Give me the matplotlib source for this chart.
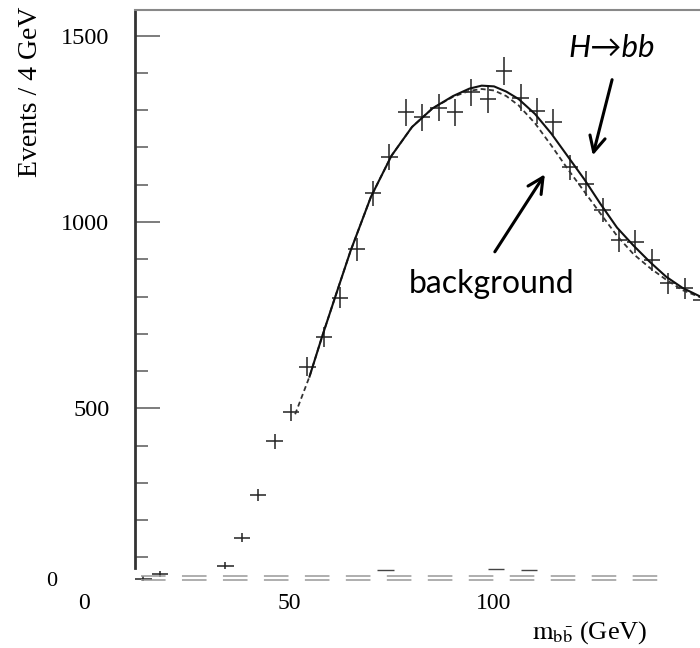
import matplotlib
matplotlib.use("Agg")
import matplotlib.pyplot as plt
import numpy as np

plt.rcParams['lines.scale_dashes'] = False
plt.rcParams['mathtext.fontset'] = 'stix'

# measured m_bb spectrum (4 GeV bins)
bin_centres = [14.5, 18.5, 34.5, 38.5, 42.5, 46.5, 50.5, 54.5, 58.5, 62.5, 66.5,
               70.5, 74.5, 78.5, 82.5, 86.5, 90.5, 94.5, 98.5, 102.5, 106.5,
               110.5, 114.5, 118.5, 122.5, 126.5, 130.5, 134.5, 138.5, 142.5,
               146.5, 150.5]
events = [43, 56, 78, 153, 267, 412, 489, 612, 692, 797, 927,
          1077, 1174, 1294, 1281, 1307, 1294, 1348, 1330, 1405, 1334,
          1298, 1269, 1147, 1103, 1031, 951, 947, 898, 835,
          822, 790]

# fit curves
bkg_x = [51.5, 55, 58, 61, 65, 70, 75, 80, 85, 90, 94, 97, 100, 103, 106,
         110, 114, 118, 122, 126, 130, 134, 138, 142, 146, 150.3]
bkg_y = [484, 585, 690, 790, 922, 1068, 1178, 1255, 1305, 1336, 1352, 1357,
         1353, 1338, 1313, 1265, 1205, 1142, 1082, 1022, 963, 914, 877, 845,
         817, 798]
tot_x = [55, 58, 61, 65, 70, 75, 80, 85, 90, 94, 97, 100, 103, 106, 110,
         114, 118, 122, 126, 130, 134, 138, 142, 146, 150.3]
tot_y = [585, 690, 790, 922, 1068, 1178, 1255, 1305, 1338, 1358, 1366,
         1364, 1350, 1330, 1290, 1237, 1176, 1115, 1048, 985, 937, 893, 853,
         823, 800]

# small signal-only bins near the axis
sig_x = [73.5, 100.5, 108.5]
sig_y = [67, 70, 66]

fig = plt.figure(figsize=(7, 6.48), dpi=100)
ax = fig.add_axes([135/700, 53.4/648, 565/700, 584.6/648])
ax.set_xlim(12.44, 150.24)
ax.set_ylim(0, 1569)

# data crosses
ax.errorbar(bin_centres, events, xerr=2, yerr=np.sqrt(events), fmt='none',
            ecolor='#222222', elinewidth=1.1, capsize=0)
ax.errorbar(sig_x, sig_y, xerr=2, fmt='none', ecolor='#444444',
            elinewidth=1.0, capsize=0)

# fits
ax.plot(bkg_x, bkg_y, color='#333333', lw=1.3, dashes=(3.6, 2.4))
ax.plot(tot_x, tot_y, color='#111111', lw=1.5)

# broken (scanned) x axis line
for yv in (40.5, 48.6):
    ax.plot([14, 140], [yv, yv], color='#999999', lw=1.1,
            dashes=(17.7, 11.8), clip_on=False)

# spines
for s in ('right', 'bottom'):
    ax.spines[s].set_visible(False)
ax.spines['top'].set_color('#888888')
ax.spines['top'].set_linewidth(1.5)
ax.spines['left'].set_color('#333333')
ax.spines['left'].set_linewidth(2)
ax.spines['left'].set_bounds(72, 1569)

ax.set_xticks([])
ax.set_yticks([500, 1000, 1500])
ax.set_yticks([100, 200, 300, 400, 600, 700, 800, 900, 1100, 1200, 1300, 1400],
              minor=True)
ax.tick_params(axis='y', which='major', direction='in', length=18, width=1.2,
               color='#666666', pad=18.5, labelsize=17.5)
ax.tick_params(axis='y', which='minor', direction='in', length=9.4, width=1.2,
               color='#666666')
for lab in ax.get_yticklabels():
    lab.set_fontfamily('Liberation Serif')

# x tick labels sit below the plotted area
for xv in [0, 50, 100]:
    ax.text(xv, -0.0144, str(xv), transform=ax.get_xaxis_transform(),
            ha='center', va='center', fontsize=17, family='Liberation Serif',
            clip_on=False)
ax.text(-0.147, 0.0216, '0', transform=ax.transAxes, ha='center', va='center',
        fontsize=16, family='Liberation Serif')

fig.text(31/700, 1 - 92/648, 'Events / 4 GeV', rotation=90, ha='center',
         va='center', fontsize=20, family='Liberation Serif')
fig.text(590/700, 1 - 633/648, r'$\mathrm{m_{b\bar{b}}}$ (GeV)', ha='center',
         va='center', fontsize=19, family='Liberation Serif')

# annotations
ax.text(128.8, 1468, 'H\u2192bb', ha='center', va='center', fontsize=22.5,
        style='italic', family=['Lato', 'DejaVu Sans'])
ax.annotate('', xy=(124.1, 1179), xytext=(128.8, 1382),
            arrowprops=dict(arrowstyle='->', color='black', lw=2.2,
                            mutation_scale=28, shrinkA=0, shrinkB=0))
ax.text(99.5, 834, 'background', ha='center', va='center', fontsize=23,
        family=['Lato', 'DejaVu Sans'])
ax.annotate('', xy=(112.4, 1128), xytext=(100.2, 920),
            arrowprops=dict(arrowstyle='->', color='black', lw=2.2,
                            mutation_scale=28, shrinkA=0, shrinkB=0))

fig.savefig('out.png', dpi=100)
